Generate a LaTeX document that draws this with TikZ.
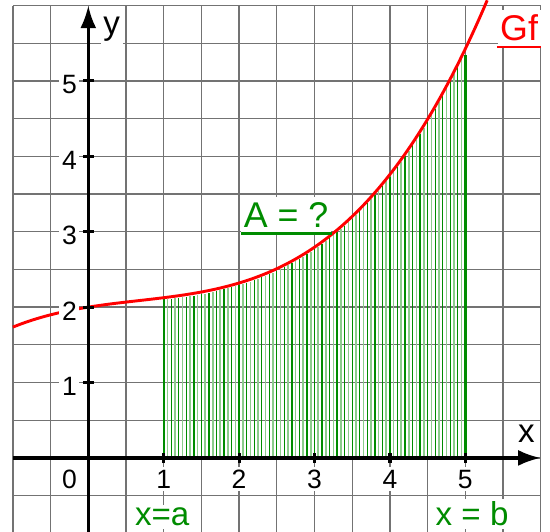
\documentclass[tikz,border=0pt]{standalone}
\usepackage{fontspec}
\setmainfont{Liberation Sans}
\usepackage{tikz}
\usepackage{xcolor}
\usetikzlibrary{arrows.meta}

\definecolor{verde}{RGB}{0,140,0}
\definecolor{verdeclaro}{RGB}{140,205,140}
\definecolor{rojo}{RGB}{255,0,0}

\begin{document}
\begin{tikzpicture}[
			 numero/.style={fill=white, inner sep=1pt, font=\fontsize{10}{12}\selectfont},
			 etiqueta/.style={fill=white, inner sep=1pt, anchor=base, font=\fontsize{12.5}{14}\selectfont},
			 subrayado/.style={fill=white, inner xsep=1pt, inner ysep=2pt, anchor=south west, font=\fontsize{13.5}{15}\selectfont},
			 eje/.style={line width=1.2pt, -{Latex[length=8.5pt,width=6pt]}},
			 marca/.style={line width=1.2pt},
			 declare function={f(\x)=2+0.16*\x-0.07*\x*\x+0.035*\x*\x*\x;}
  		]

	\useasboundingbox (-1.171,-0.979) rectangle (6.123,6.073);

	%Cuadricula
		\draw[black!55, line width=0.5pt, step=0.5] (-1,-1) grid (6,6);

	%Area bajo la curva
		\foreach \i in {1,...,79}{
			\pgfmathsetmacro{\xh}{1+0.05*\i}
			\ifodd\i
				\draw[verdeclaro, line width=0.6pt] (\xh,0) -- (\xh,{f(\xh)-0.03});
			\else
				\draw[verde, line width=0.5pt] (\xh,0) -- (\xh,{f(\xh)-0.03});
			\fi
		}
		\draw[verde, line width=0.9pt] (1,0) -- (1,{f(1)-0.02});
		\draw[verde, line width=0.9pt] (5,0) -- (5,{f(5)-0.08});

	%Grafica de f
		\draw[rojo, line width=1.1pt, domain=-1:5.29, samples=120] plot (\x,{f(\x)});

	%Ejes
		\draw[eje] (-1,0) -- (6,0);
		\draw[eje] (0,-1) -- (0,6);

	%Marcas y numeros
		\foreach \k in {1,...,5}{
			\draw[marca] (\k,-0.07) -- (\k,0.07);
			\draw[marca] (-0.07,\k) -- (0.07,\k);
			\node[numero] (nx\k) at (\k,-0.28) {\k};
			\node[numero] (ny\k) at (-0.25,\k-0.05) {\k};
		}
		\node[numero] (n0) at (-0.25,-0.29) {0};

	%Etiquetas
		\node[etiqueta] (ejey) at (0.31,5.61) {y};
		\node[etiqueta] (ejex) at (5.81,0.21) {x};
		\node[etiqueta, text=verde] (xa) at (0.98,-0.90) {x=a};
		\node[etiqueta, text=verde] (xb) at (5.09,-0.90) {x = b};

		\node[subrayado, text=verde] (area) at (2.02,2.98) {A = ?};
		\draw[verde, line width=1.1pt] (area.south west) -- (area.south east);
		\node[subrayado, text=rojo] (gf) at (5.42,5.45) {Gf};
		\draw[rojo, line width=1.1pt] (gf.south west) -- (gf.south east);

\end{tikzpicture}
\end{document}
